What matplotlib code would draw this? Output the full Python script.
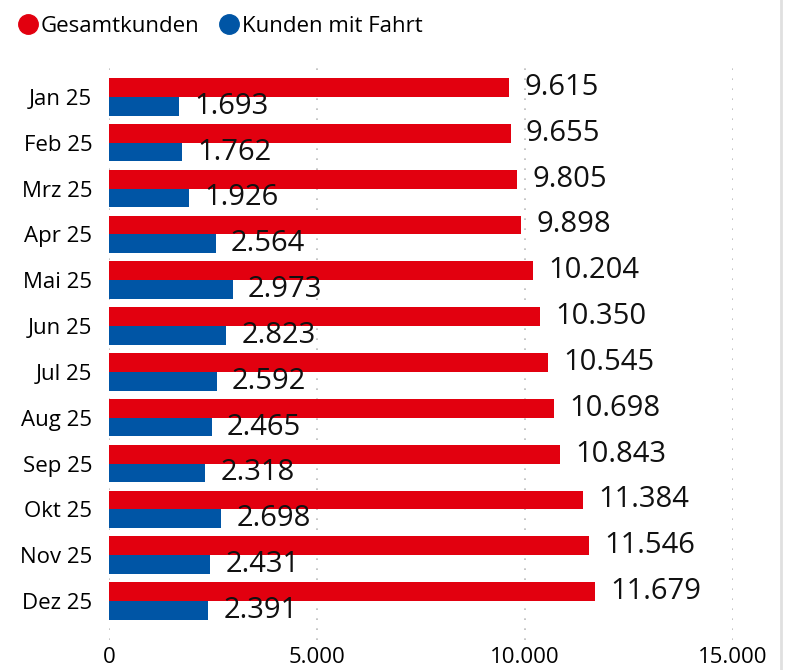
import matplotlib
matplotlib.use('Agg')
import matplotlib.pyplot as plt
from matplotlib.lines import Line2D
import numpy as np

months = ['Jan 25', 'Feb 25', 'Mrz 25', 'Apr 25', 'Mai 25', 'Jun 25',
          'Jul 25', 'Aug 25', 'Sep 25', 'Okt 25', 'Nov 25', 'Dez 25']
gesamt = [9615, 9655, 9805, 9898, 10204, 10350, 10545, 10698, 10843, 11384, 11546, 11679]
mit_fahrt = [1693, 1762, 1926, 2564, 2973, 2823, 2592, 2465, 2318, 2698, 2431, 2391]
xticks = [0, 5000, 10000, 15000]

RED = '#E2000F'
BLUE = '#0055A5'

plt.rcParams['font.family'] = ['Open Sans', 'DejaVu Sans']

def fmt(v):
    return '{:,}'.format(v).replace(',', '.')

W, H = 785, 670
fig = plt.figure(figsize=(W / 100, H / 100), dpi=100)
# axes in pixel coords: x 109..733 (0..15000), y 62..640
ax = fig.add_axes([109 / W, 1 - 640 / H, (733 - 109) / W, (640 - 62) / H])

y = np.arange(len(months))
bh = 0.41
ax.barh(y - bh / 2, gesamt, height=bh, color=RED, zorder=3)
ax.barh(y + bh / 2, mit_fahrt, height=bh, color=BLUE, zorder=3)

for i in range(len(months)):
    ax.annotate(fmt(gesamt[i]), (gesamt[i], y[i] - bh / 2), xytext=(11, 0),
                textcoords='offset points', va='center', ha='left',
                fontsize=21, color='#111111', zorder=4, annotation_clip=False)
    ax.annotate(fmt(mit_fahrt[i]), (mit_fahrt[i], y[i] + bh / 2), xytext=(11, 0),
                textcoords='offset points', va='center', ha='left',
                fontsize=21, color='#111111', zorder=4, annotation_clip=False)

ax.set_xlim(0, 15000)
ax.set_ylim(len(months) - 1 + 0.85, -0.76)
ax.set_yticks(y)
ax.set_yticklabels(months, fontsize=16)
ax.set_xticks(xticks)
ax.set_xticklabels([fmt(v) for v in xticks], fontsize=16)
ax.tick_params(length=0, pad=12)
ax.tick_params(axis='x', pad=5)
for s in ax.spines.values():
    s.set_visible(False)
ax.xaxis.grid(True, linestyle=(0, (1, 5)), color='#bbbbbb', linewidth=1.2, zorder=0)
ax.set_axisbelow(True)

handles = [Line2D([], [], marker='o', linestyle='', markersize=14, color=RED),
           Line2D([], [], marker='o', linestyle='', markersize=14, color=BLUE)]
fig.legend(handles, ['Gesamtkunden', 'Kunden mit Fahrt'], loc='upper left',
           bbox_to_anchor=(-10 / W, 1 - 0 / H), ncol=2, frameon=False, fontsize=16,
           handletextpad=-0.4, columnspacing=0.3, borderpad=0.2)

# right border line
fig.add_artist(Line2D([781 / W, 781 / W], [0, 1], color='#e0e0e0', linewidth=2))

fig.savefig('out.png', dpi=100)
